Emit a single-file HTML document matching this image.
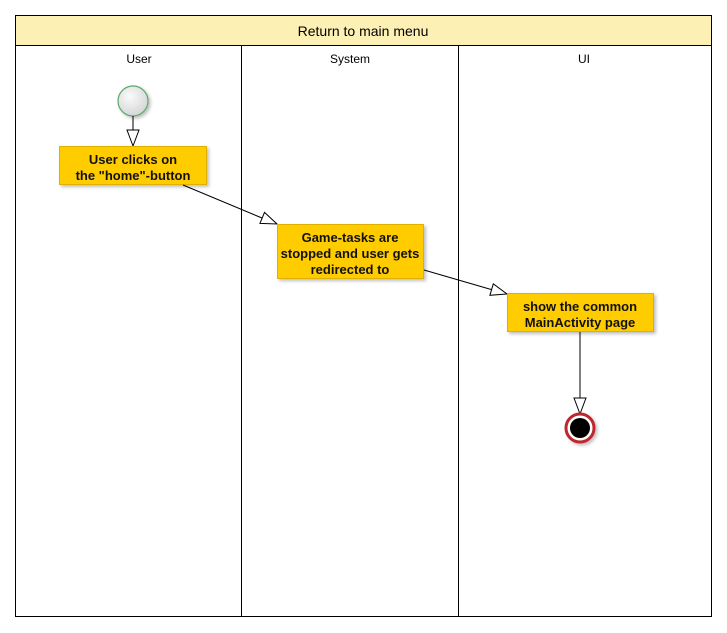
<!DOCTYPE html>
<html><head><style>
body{margin:0;background:#fff;}
svg{display:block;font-family:"Liberation Sans",Arial,sans-serif;}
</style></head><body>
<svg width="727" height="633" viewBox="0 0 727 633">
<defs>
<radialGradient id="g1" cx="0.4" cy="0.35" r="0.7"><stop offset="0" stop-color="#fafafa"/><stop offset="1" stop-color="#d4d4d4"/></radialGradient>
<filter id="sh" x="-20%" y="-20%" width="150%" height="150%"><feDropShadow dx="2" dy="2" stdDeviation="1.5" flood-color="#000" flood-opacity="0.25"/></filter>
</defs>
<rect x="15.5" y="15.5" width="696" height="601" fill="#fff" stroke="#000"/>
<rect x="15.5" y="15.5" width="696" height="30" fill="#fdf0b4" stroke="#000"/>
<text x="363" y="36" font-size="14" text-anchor="middle">Return to main menu</text>
<line x1="241.5" y1="45" x2="241.5" y2="617" stroke="#000"/>
<line x1="458.5" y1="45" x2="458.5" y2="617" stroke="#000"/>
<text x="139" y="63" font-size="12" text-anchor="middle">User</text>
<text x="350" y="63" font-size="12" text-anchor="middle">System</text>
<text x="584" y="63" font-size="12" text-anchor="middle">UI</text>

<circle cx="133" cy="101" r="15" fill="url(#g1)" stroke="#5aa86a" stroke-width="1.2" filter="url(#sh)"/>
<line x1="133" y1="116" x2="133" y2="130" stroke="#000"/>
<polygon points="127,130 139,130 133,146" fill="#fff" stroke="#000"/>

<rect x="59.5" y="146.5" width="147" height="38" fill="#ffcc00" stroke="#e0b000" filter="url(#sh)"/>
<text font-size="13" font-weight="bold" text-anchor="middle" fill="#111"><tspan x="133" y="164">User clicks on</tspan><tspan x="133" y="180">the "home"-button</tspan></text>

<line x1="183" y1="185" x2="262" y2="218" stroke="#000"/>
<polygon points="259.9,223.4 264.5,212.4 277,224" fill="#fff" stroke="#000"/>

<rect x="277.5" y="224.5" width="146" height="54" fill="#ffcc00" stroke="#e0b000" filter="url(#sh)"/>
<text font-size="13" font-weight="bold" text-anchor="middle" fill="#111"><tspan x="350" y="242">Game-tasks are</tspan><tspan x="350" y="258">stopped and user gets</tspan><tspan x="350" y="274">redirected to</tspan></text>

<line x1="424" y1="270" x2="491.6" y2="289.6" stroke="#000"/>
<polygon points="489.9,295.3 493.3,283.8 507,294" fill="#fff" stroke="#000"/>

<rect x="507.5" y="293.5" width="146" height="38" fill="#ffcc00" stroke="#e0b000" filter="url(#sh)"/>
<text font-size="13" font-weight="bold" text-anchor="middle" fill="#111"><tspan x="580" y="311">show the common</tspan><tspan x="580" y="327">MainActivity page</tspan></text>

<line x1="580" y1="332" x2="580" y2="398" stroke="#000"/>
<polygon points="574,398 586,398 580,414" fill="#fff" stroke="#000"/>
<circle cx="580" cy="428" r="14" fill="#fff" stroke="#c0272d" stroke-width="3" filter="url(#sh)"/>
<circle cx="580" cy="428" r="10" fill="#000"/>
</svg>
</body></html>
